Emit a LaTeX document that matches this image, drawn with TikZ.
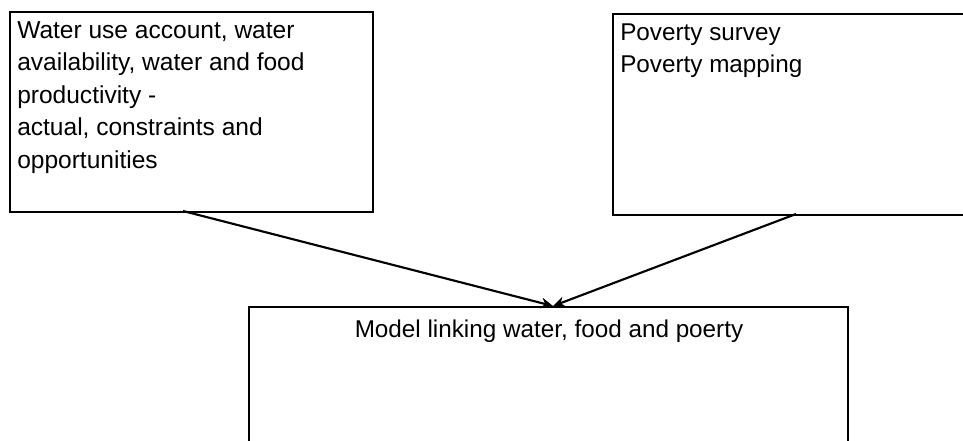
\documentclass[tikz,border=0pt]{standalone}
\usepackage{fontspec}
\setmainfont{Liberation Sans}
\usetikzlibrary{arrows.meta}
\begin{document}
\begin{tikzpicture}[x=0.75pt,y=-0.75pt,
  box/.style={draw=black,line width=1.5pt,inner sep=0pt,anchor=north west},
  txt/.style={inner sep=0pt,font=\fontsize{18.4}{24.4}\selectfont},
  bigtxt/.style={inner sep=0pt,font=\fontsize{18.2}{24.2}\selectfont},
  arr/.style={line width=1.6pt,-{Stealth[length=9pt,width=8pt]}}]
\useasboundingbox (0,0) rectangle (963,440);
\clip (0,0) rectangle (963,440);
\node[box,minimum width=363*0.75pt,minimum height=200*0.75pt] (lb) at (9,11) {};
\node[box,minimum width=380*0.75pt,minimum height=201*0.75pt] (rb) at (612,13) {};
\node[box,minimum width=599*0.75pt,minimum height=160*0.75pt] (bb) at (248,306) {};
\node[txt,anchor=north west,align=left] (lt) at (17,15.2) {\strut Water use account, water\\availability, water and food\\productivity -\\actual, constraints and\\opportunities};
\node[bigtxt,anchor=north west,align=left] (rt) at (620,17.4) {\strut Poverty survey\\Poverty mapping};
\node[bigtxt,anchor=base] (bt) at (549,337) {Model linking water, food and poerty};
\coordinate (tip) at (553,306);
\coordinate (ls) at (183,211);
\coordinate (rs) at (796,214);
\draw[arr] (ls) -- (tip);
\draw[arr] (rs) -- (tip);
\end{tikzpicture}
\end{document}
